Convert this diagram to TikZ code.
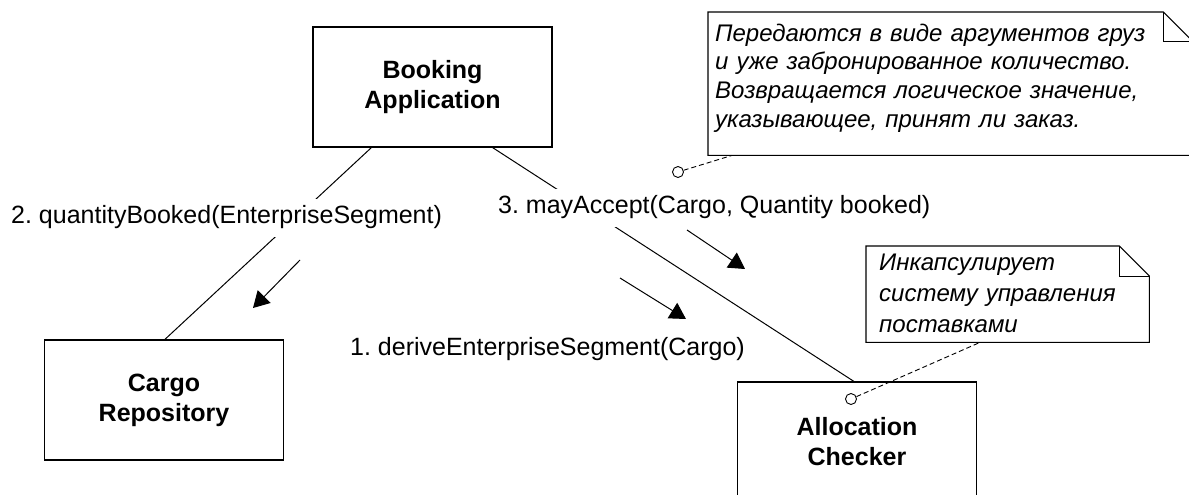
\documentclass[tikz,border=0pt]{standalone}
\usepackage{fontspec}
\setmainfont{Liberation Sans}
\usetikzlibrary{arrows.meta}
\frenchspacing

\newcommand{\notefold}[1]{%
  \draw[line width=1.1pt] (#1.north west) -- ([xshift=-30pt]#1.north east) -- ([yshift=-30pt]#1.north east)
    -- (#1.south east) -- (#1.south west) -- cycle;
  \draw[line width=1pt] ([xshift=-30pt]#1.north east) |- ([yshift=-30pt]#1.north east);}

\begin{document}
\begin{tikzpicture}[x=1pt, y=-1pt,
  obj/.style={draw, line width=1.2pt, minimum width=239pt, minimum height=120pt, align=center,
    font=\bfseries\fontsize{25}{30}\selectfont},
  msg/.style={anchor=base west, fill=white, inner xsep=2pt, inner ysep=6pt, text depth=8pt,
    font=\fontsize{25}{30}\selectfont},
  notebox/.style={anchor=north west, align=left, inner ysep=0pt,
    font=\itshape\fontsize{24}{28.7}\selectfont},
  ring/.style={draw, circle, fill=white, minimum size=11pt, inner sep=0pt, line width=0.9pt},
  link/.style={line width=1pt},
  call/.style={line width=1pt, -{Triangle[length=16pt, width=18pt]}}]
\useasboundingbox (0,0) rectangle (1189,495);
\clip (0,0) rectangle (1189,495);

\node[obj] (book) at (432.5,87) {Booking\\Application};
\node[obj] (cargo) at (164,400) {Cargo\\Repository};
\node[obj] (alloc) at (857,442) {Allocation\\Checker};

\draw[link] ([xshift=59pt]book.south west) -- ([xshift=121pt]cargo.north west);
\draw[link] ([xshift=-60pt]book.south east) -- ([xshift=117pt]alloc.north west);

\node[msg] (m2) at (9,223) {2. quantityBooked(EnterpriseSegment)};
\node[msg] (m3) at (496,213) {3. mayAccept(Cargo, Quantity booked)};
\node[msg] (m1) at (348,355) {1. deriveEnterpriseSegment(Cargo)};

\coordinate (c2a) at (300,260); \coordinate (c2b) at (253,308);
\coordinate (c3a) at (687,230); \coordinate (c3b) at (745,269);
\coordinate (c1a) at (620,278); \coordinate (c1b) at (686,319);
\draw[call] (c2a) -- (c2b);
\draw[call] (c3a) -- (c3b);
\draw[call] (c1a) -- (c1b);

\node[notebox, text width=471pt, inner xsep=7pt, text height=29pt, text depth=114pt] (note1) at (708,12)
  {Передаются в виде аргументов груз\\и уже забронированное количество.\\Возвращается логическое значение,\\указывающее, принят ли заказ.};
\notefold{note1}
\node[notebox, text width=257pt, inner xsep=13pt, text height=24pt, text depth=72pt,
  font=\itshape\fontsize{24}{31}\selectfont] (note2) at (866,246)
  {Инкапсулирует\\систему управления\\поставками};
\notefold{note2}

\node[ring] (pin1) at (678,172) {};
\node[ring] (pin2) at (851,399) {};
\draw[line width=0.9pt, dash pattern=on 5pt off 3pt] (pin1) -- ([xshift=24pt]note1.south west);
\draw[line width=0.9pt, dash pattern=on 5pt off 3pt] (pin2) -- ([xshift=114pt]note2.south west);
\end{tikzpicture}
\end{document}
